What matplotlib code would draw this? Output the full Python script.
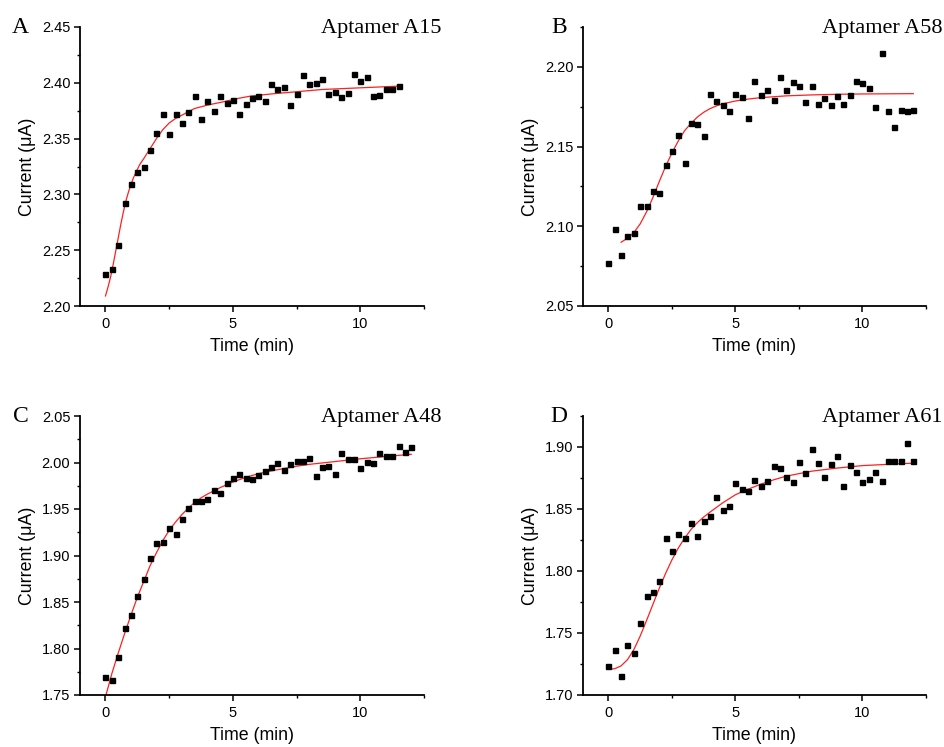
import matplotlib
matplotlib.use("Agg")
import matplotlib.pyplot as plt
from matplotlib.ticker import MultipleLocator

plt.rcParams["font.family"] = ["Liberation Sans", "DejaVu Sans"]

# sampling times shared by all four runs (min)
time_min = [0.0, 0.25, 0.5, 0.75, 1.0, 1.25, 1.5, 1.75, 2.0, 2.25, 2.5, 2.75,
            3.0, 3.25, 3.5, 3.75, 4.0, 4.25, 4.5, 4.75, 5.0, 5.25, 5.5, 5.75,
            6.0, 6.25, 6.5, 6.75, 7.0, 7.25, 7.5, 7.75, 8.0, 8.25, 8.5, 8.75,
            9.0, 9.25, 9.5, 9.75, 10.0, 10.25, 10.5, 10.75, 11.0, 11.25, 11.5,
            11.75, 12.0]

# A15 (47 points, up to 11.5 min)
a15_current = [2.229, 2.233, 2.255, 2.292, 2.309, 2.320, 2.325, 2.340, 2.355,
               2.372, 2.354, 2.372, 2.364, 2.374, 2.388, 2.368, 2.384, 2.375,
               2.388, 2.382, 2.385, 2.372, 2.381, 2.386, 2.388, 2.384, 2.399,
               2.394, 2.396, 2.380, 2.390, 2.407, 2.399, 2.400, 2.403, 2.390,
               2.392, 2.387, 2.391, 2.408, 2.402, 2.405, 2.388, 2.389, 2.394,
               2.394, 2.397]
# fitted curve
a15_fit_t = [0.0, 0.1, 0.2, 0.3, 0.4, 0.5, 0.6, 0.7, 0.8, 0.9, 1.0, 1.1, 1.2,
             1.35, 1.5, 1.75, 2.0, 2.25, 2.5, 2.75, 3.0, 3.5, 4.0, 4.63, 5.2,
             5.67, 6.5, 7.5, 8.5, 9.5, 10.5, 11.5]
a15_fit_i = [2.209, 2.217, 2.226, 2.237, 2.249, 2.261, 2.273, 2.284, 2.294,
             2.302, 2.309, 2.315, 2.320, 2.327, 2.332, 2.341, 2.350, 2.358,
             2.364, 2.368, 2.371, 2.377, 2.380, 2.383, 2.386, 2.388, 2.390,
             2.392, 2.394, 2.395, 2.396, 2.397]

# A58 (49 points)
a58_current = [2.077, 2.098, 2.082, 2.094, 2.096, 2.113, 2.113, 2.122, 2.121,
               2.1385, 2.147, 2.157, 2.140, 2.165, 2.164, 2.1565, 2.183,
               2.1785, 2.176, 2.172, 2.183, 2.181, 2.168, 2.191, 2.1826,
               2.1856, 2.179, 2.1935, 2.1856, 2.1908, 2.188, 2.178, 2.1877,
               2.177, 2.1805, 2.176, 2.1816, 2.177, 2.1826, 2.191, 2.190,
               2.187, 2.175, 2.209, 2.172, 2.162, 2.173, 2.172, 2.173]
a58_fit_t = [0.5, 0.75, 1.0, 1.25, 1.5, 1.75, 2.0, 2.25, 2.5, 2.75, 3.0, 3.25,
             3.5, 3.75, 4.0, 4.25, 4.5, 5.0, 5.5, 6.0, 7.0, 8.0, 9.0, 10.0,
             12.0]
a58_fit_i = [2.090, 2.0925, 2.096, 2.1015, 2.109, 2.118, 2.128, 2.1375, 2.146,
             2.1535, 2.160, 2.1645, 2.1685, 2.1715, 2.1738, 2.1755, 2.1768,
             2.1786, 2.1798, 2.1807, 2.1818, 2.1824, 2.1828, 2.183, 2.1832]

# A48 (49 points)
a48_current = [1.769, 1.766, 1.7905, 1.822, 1.836, 1.856, 1.875, 1.897, 1.913,
               1.914, 1.930, 1.9235, 1.939, 1.951, 1.9586, 1.9586, 1.961,
               1.970, 1.967, 1.978, 1.9837, 1.9876, 1.983, 1.982, 1.9866,
               1.991, 1.995, 2.000, 1.9916, 1.998, 2.002, 2.002, 2.005, 1.985,
               1.995, 1.9966, 1.988, 2.010, 2.004, 2.0038, 1.994, 2.001, 2.000,
               2.010, 2.007, 2.0066, 2.018, 2.0117, 2.0163]
a48_fit_t = [0.0, 0.25, 0.5, 0.75, 1.0, 1.25, 1.5, 1.75, 2.0, 2.25, 2.5, 2.75,
             3.0, 3.25, 3.5, 3.75, 4.0, 4.5, 5.0, 5.5, 6.0, 6.5, 7.0, 7.5,
             8.0, 9.0, 10.0, 11.0, 12.0]
a48_fit_i = [1.748, 1.773, 1.795, 1.816, 1.836, 1.855, 1.872, 1.889, 1.903,
             1.916, 1.927, 1.936, 1.944, 1.951, 1.957, 1.962, 1.966, 1.973,
             1.979, 1.984, 1.988, 1.991, 1.9935, 1.996, 1.998, 2.001, 2.004,
             2.0065, 2.0088]

# A61 (49 points)
a61_current = [1.7234, 1.736, 1.7153, 1.7406, 1.7336, 1.7584, 1.7797, 1.7832,
               1.7923, 1.8265, 1.8163, 1.8297, 1.8265, 1.8389, 1.8279, 1.840,
               1.8445, 1.8594, 1.8494, 1.8524, 1.8709, 1.8664, 1.8645, 1.8736,
               1.8685, 1.8723, 1.8847, 1.8828, 1.876, 1.8715, 1.8876, 1.879,
               1.8987, 1.8868, 1.8755, 1.8865, 1.8925, 1.8688, 1.8855, 1.880,
               1.872, 1.8742, 1.8798, 1.8723, 1.8884, 1.8884, 1.8884, 1.9032,
               1.8884]
a61_fit_t = [0.0, 0.25, 0.5, 0.75, 1.0, 1.25, 1.5, 1.75, 2.0, 2.25, 2.5, 2.75,
             3.0, 3.25, 3.5, 3.75, 4.0, 4.5, 5.0, 5.5, 6.0, 6.5, 7.0, 8.0,
             9.0, 10.0, 11.0, 12.0]
a61_fit_i = [1.7207, 1.7212, 1.7235, 1.7285, 1.7365, 1.7475, 1.760, 1.773,
             1.786, 1.798, 1.809, 1.8185, 1.8265, 1.8335, 1.8390, 1.8435,
             1.8475, 1.855, 1.8615, 1.866, 1.8700, 1.8735, 1.8765, 1.8805,
             1.883, 1.885, 1.886, 1.887]

W, H = 945, 747
fig = plt.figure(figsize=(W / 100, H / 100), dpi=100)


def box(x0, y_top, x1, y_bot):
    return [x0 / W, 1 - y_bot / H, (x1 - x0) / W, (y_bot - y_top) / H]


panels = [
    ("A", "Aptamer A15", time_min[:len(a15_current)], a15_current, a15_fit_t, a15_fit_i,
     (2.20, 2.45), box(80, 27, 424, 306), (12, 33), (442, 33)),
    ("B", "Aptamer A58", time_min, a58_current, a58_fit_t, a58_fit_i,
     (2.05, 2.225), box(583, 27, 926, 306), (551, 33), (943, 33)),
    ("C", "Aptamer A48", time_min, a48_current, a48_fit_t, a48_fit_i,
     (1.75, 2.05), box(80, 416, 424, 695), (13, 422), (442, 422)),
    ("D", "Aptamer A61", time_min, a61_current, a61_fit_t, a61_fit_i,
     (1.70, 1.925), box(583, 416, 926, 695), (550, 422), (943, 422)),
]

for letter, title, t, cur, ft, fi, ylim, rect, lpos, tpos in panels:
    ax = fig.add_axes(rect)
    ax.plot(ft, fi, color="#ff2020", lw=0.9, zorder=2)
    ax.plot(t, cur, "s", color="black", ms=3.6, zorder=3)
    ax.set_xlim(-1, 12.5)
    ax.set_ylim(*ylim)
    ax.xaxis.set_major_locator(MultipleLocator(5))
    ax.xaxis.set_minor_locator(MultipleLocator(2.5))
    ax.yaxis.set_major_locator(MultipleLocator(0.05))
    ax.yaxis.set_minor_locator(MultipleLocator(0.025))
    ax.yaxis.set_major_formatter(plt.FormatStrFormatter("%.2f"))
    for side in ("top", "right"):
        ax.spines[side].set_visible(False)
    for side in ("left", "bottom"):
        ax.spines[side].set_linewidth(1.3)
    ax.tick_params(which="major", direction="out", length=4, width=1.1,
                   labelsize=10.5, pad=3)
    ax.tick_params(which="minor", direction="out", length=2.5, width=1.0)
    ax.tick_params(axis="x", which="major", pad=4)
    ax.set_xlabel("Time (min)", fontsize=12.8, labelpad=5)
    ax.set_ylabel("Current (\u03bcA)", fontsize=12.8, labelpad=4)

    fig.text(lpos[0] / W, 1 - lpos[1] / H, letter, family="Liberation Serif",
             fontsize=17, ha="left", va="baseline")
    fig.text(tpos[0] / W, 1 - tpos[1] / H, title, family="Liberation Serif",
             fontsize=16, ha="right", va="baseline")

fig.savefig("out.png", dpi=100)
